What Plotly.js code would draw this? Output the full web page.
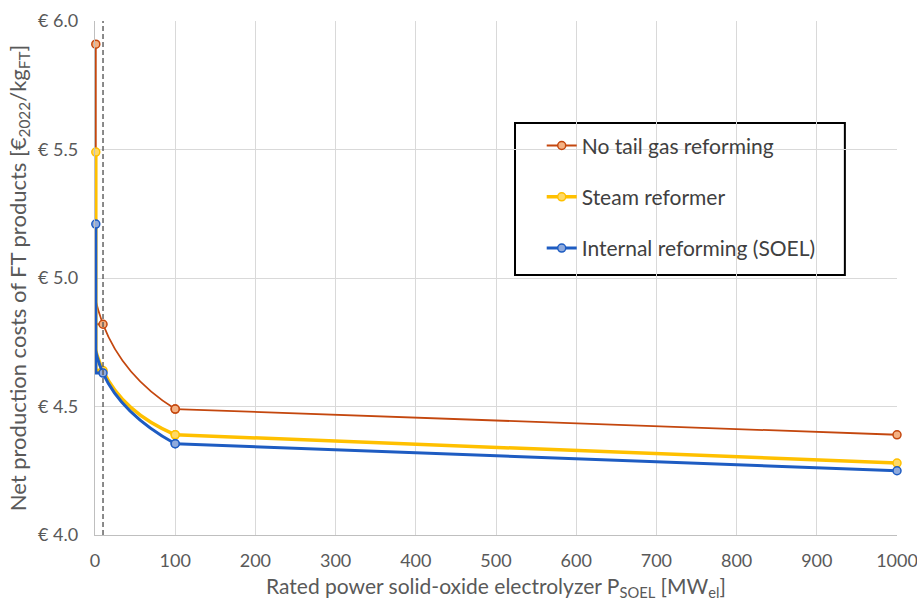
<!DOCTYPE html>
<html><head><meta charset="utf-8">
<script src="https://cdn.plot.ly/plotly-3.0.1.min.js"></script>
<style>body{margin:0;background:#fff}#c{width:917px;height:601px}</style>
</head><body><div id="c"></div>
<script>
const power = [1, 10, 100, 1000];
const noTail = [5.91, 4.82, 4.49, 4.39];
const steam = [5.49, 4.64, 4.39, 4.28];
const internal = [5.21, 4.63, 4.355, 4.25];
const names = ["No tail gas reforming", "Steam reformer", "Internal reforming (SOEL)"];
const yTicks = [4.0, 4.5, 5.0, 5.5, 6.0];
const yTickText = yTicks.map(v => "€ " + v.toFixed(1));
const xTicks = [0,100,200,300,400,500,600,700,800,900,1000];
const refX = 10;

const fontFam = "Lato, 'Open Sans', sans-serif";
// Each series is drawn from its data in three pieces so that the smoothed part
// (1 -> 10 -> 100) does not overshoot into the straight tail (100 -> 1000).
function series(y, name, col, fill, w, g){
  const mk = {size: 8, color: fill, line: {color: col, width: 1.5}};
  return [
    {x: power.slice(0, 2), y: y.slice(0, 2), type: 'scatter', mode: 'lines',
      line: {color: col, width: w, shape: 'vh'}, legendgroup: g, showlegend: false, hoverinfo: 'skip'},
    {x: power.slice(0, 3), y: y.slice(0, 3), name: name, type: 'scatter', mode: 'lines+markers',
      line: {color: col, width: w, shape: 'spline', smoothing: 1.3}, marker: mk, legendgroup: g,
      cliponaxis: false},
    {x: power.slice(2), y: y.slice(2), name: name, type: 'scatter', mode: 'lines+markers',
      line: {color: col, width: w}, marker: mk, legendgroup: g, showlegend: false, cliponaxis: false}
  ];
}
const data = [].concat(
  series(noTail, names[0], '#C4470E', '#F4B183', 1.8, 'a'),
  series(steam, names[1], '#FFC000', '#FFD966', 3.5, 'b'),
  series(internal, names[2], '#1E5CC2', '#8FAADC', 3, 'c')
);
const layout = {
  width: 917, height: 601,
  margin: {l: 95, r: 20, t: 21, b: 66},
  paper_bgcolor: '#fff', plot_bgcolor: '#fff',
  font: {family: fontFam, color: '#595959', size: 18},
  xaxis: {range: [0, 1000], tickvals: xTicks, gridcolor: '#d9d9d9', gridwidth: 1.4,
    showline: true, linecolor: '#bfbfbf', linewidth: 1.4, zeroline: false,
    ticks: '', tickfont: {size: 18}, ticklabelstandoff: 9, ticklabeloverflow: 'allow',
    title: {text: 'Rated power solid-oxide electrolyzer P<sub>SOEL</sub> [MW<sub>el</sub>]', font: {size: 21}, standoff: 16}},
  yaxis: {range: [4.0, 6.0], tickvals: yTicks, ticktext: yTickText, gridcolor: '#d9d9d9', gridwidth: 1.4,
    showline: true, linecolor: '#bfbfbf', linewidth: 1.4, zeroline: false,
    ticks: '', tickfont: {size: 18}, ticklabelstandoff: 12, ticklabeloverflow: 'allow',
    title: {text: 'Net production costs of FT products [€<sub>2022</sub>/kg<sub>FT</sub>]', font: {size: 22}, standoff: 5}},
  showlegend: true,
  legend: {x: 0.557, y: 0.797, xanchor: 'left', yanchor: 'top', bgcolor: 'rgba(0,0,0,0)',
    borderwidth: 0, font: {size: 21, color: '#404040'}, traceorder: 'grouped', tracegroupgap: 21},
  shapes: [
    {type: 'line', xref: 'x', yref: 'paper', x0: refX, x1: refX, y0: 0, y1: 1,
      line: {color: '#595959', width: 1.4, dash: '5px,3px'}},
    {type: 'rect', xref: 'paper', yref: 'paper', x0: 0.5237, x1: 0.935, y0: 0.506, y1: 0.8016,
      line: {color: '#000', width: 2}, fillcolor: '#fff', layer: 'below'}
  ]
};
Plotly.newPlot('c', data, layout, {displayModeBar: false});
</script></body></html>
